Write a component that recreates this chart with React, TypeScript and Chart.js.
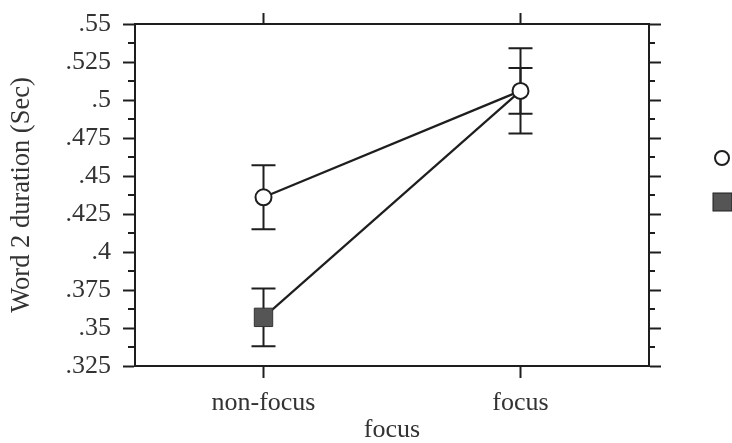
import React, { useEffect, useRef } from 'react';
import { Chart, registerables } from 'chart.js';

Chart.register(...registerables);

// ---- data ----
const categories = ['non-focus', 'focus'];
const circleValues = [0.436, 0.506];
const circleErrors = [0.021, 0.015];
const squareValues = [0.357, 0.506];
const squareErrors = [0.019, 0.028];
const yTickValues = [0.325, 0.35, 0.375, 0.4, 0.425, 0.45, 0.475, 0.5, 0.525, 0.55];
const yTickLabels = ['.325', '.35', '.375', '.4', '.425', '.45', '.475', '.5', '.525', '.55'];
const yMinorValues = [0.3375, 0.3625, 0.3875, 0.4125, 0.4375, 0.4625, 0.4875, 0.5125, 0.5375];
const yTitle = 'Word 2 duration (Sec)';
const xTitle = 'focus';

const INK = '#1e1e1e';
const TEXT = '#333';
const FONT = "'Liberation Serif', 'Times New Roman', serif";

const errorBarPlugin = {
  id: 'errorBars',
  beforeDatasetsDraw(chart: any) {
    const { ctx } = chart;
    const xs = chart.scales.x;
    const ys = chart.scales.y;
    const sets = [
      { v: squareValues, e: squareErrors },
      { v: circleValues, e: circleErrors },
    ];
    ctx.save();
    ctx.strokeStyle = INK;
    ctx.lineWidth = 2;
    sets.forEach((s) => {
      s.v.forEach((val, j) => {
        const x = xs.getPixelForValue(j);
        const yt = ys.getPixelForValue(val + s.e[j]);
        const yb = ys.getPixelForValue(val - s.e[j]);
        ctx.beginPath();
        ctx.moveTo(x, yt);
        ctx.lineTo(x, yb);
        ctx.moveTo(x - 12, yt);
        ctx.lineTo(x + 12, yt);
        ctx.moveTo(x - 12, yb);
        ctx.lineTo(x + 12, yb);
        ctx.stroke();
      });
    });
    ctx.restore();
  },
  afterDraw(chart: any) {
    const { ctx, chartArea } = chart;
    const ys = chart.scales.y;
    ctx.save();
    ctx.strokeStyle = INK;
    ctx.lineWidth = 2;
    // minor ticks left and right
    yMinorValues.forEach((v) => {
      const y = ys.getPixelForValue(v);
      ctx.beginPath();
      ctx.moveTo(chartArea.left - 7, y);
      ctx.lineTo(chartArea.left, y);
      ctx.moveTo(chartArea.right, y);
      ctx.lineTo(chartArea.right + 6, y);
      ctx.stroke();
    });
    // legend markers (labels fall outside the picture)
    const lx = chartArea.right + 73;
    ctx.beginPath();
    ctx.arc(lx, 158, 7, 0, Math.PI * 2);
    ctx.fillStyle = '#fff';
    ctx.fill();
    ctx.lineWidth = 2;
    ctx.stroke();
    ctx.fillStyle = '#555';
    ctx.fillRect(lx - 9, 193, 19, 18);
    ctx.lineWidth = 1;
    ctx.strokeRect(lx - 9, 193, 19, 18);
    ctx.restore();
  },
};

export default function App() {
  const ref = useRef<HTMLCanvasElement>(null);
  useEffect(() => {
    if (!ref.current) return;
    const chart = new Chart(ref.current, {
      type: 'line',
      data: {
        labels: categories,
        datasets: [
          {
            label: 'circle',
            data: circleValues,
            borderColor: INK,
            borderWidth: 2.2,
            pointStyle: 'circle',
            pointRadius: 8,
            pointBorderWidth: 2,
            pointBackgroundColor: '#fff',
            pointBorderColor: INK,
            order: 0,
          },
          {
            label: 'square',
            data: squareValues,
            borderColor: INK,
            borderWidth: 2.2,
            pointStyle: 'rect',
            pointRadius: [13, 0],
            pointBorderWidth: 1,
            pointBackgroundColor: '#555',
            pointBorderColor: '#333',
            order: 1,
          },
        ],
      },
      options: {
        responsive: false,
        animation: false,
        devicePixelRatio: 1,
        layout: { padding: 0 },
        plugins: { legend: { display: false }, tooltip: { enabled: false } },
        scales: {
          x: {
            type: 'category',
            position: 'bottom',
            offset: true,
            grid: { drawOnChartArea: false, offset: false, tickLength: 12, tickColor: INK, tickWidth: 2 },
            border: { display: true, color: INK, width: 2 },
            ticks: { color: TEXT, font: { family: FONT, size: 26 }, padding: 10, maxRotation: 0 },
            title: { display: true, text: xTitle, color: TEXT, font: { family: FONT, size: 26, lineHeight: 1 }, padding: { top: 0, bottom: 0 } },
            afterFit: (s: any) => { s.height = 77; s.paddingLeft = 0; s.paddingRight = 0; },
          },
          x2: {
            type: 'category',
            labels: categories,
            position: 'top',
            offset: true,
            display: true,
            grid: { drawOnChartArea: false, offset: false, tickLength: 11, tickColor: INK, tickWidth: 2 },
            border: { display: true, color: INK, width: 2 },
            ticks: { display: false },
            afterFit: (s: any) => { s.height = 24; s.paddingLeft = 0; s.paddingRight = 0; },
          },
          y: {
            type: 'linear',
            position: 'left',
            min: 0.325,
            max: 0.55,
            afterBuildTicks: (s: any) => { s.ticks = yTickValues.map((v) => ({ value: v })); },
            grid: { drawOnChartArea: false, tickLength: 12, tickColor: INK, tickWidth: 2 },
            border: { display: true, color: INK, width: 2 },
            ticks: {
              color: TEXT,
              font: { family: FONT, size: 26 },
              padding: 12,
              callback: (_v: any, i: number) => yTickLabels[i],
            },
            title: { display: true, text: yTitle, color: TEXT, font: { family: FONT, size: 26.5 }, padding: { top: 6, bottom: 0 } },
            afterFit: (s: any) => { s.width = 135; s.paddingTop = 0; s.paddingBottom = 0; },
          },
          y2: {
            type: 'linear',
            position: 'right',
            display: true,
            min: 0.325,
            max: 0.55,
            afterBuildTicks: (s: any) => { s.ticks = yTickValues.map((v) => ({ value: v })); },
            grid: { drawOnChartArea: false, tickLength: 12, tickColor: INK, tickWidth: 2 },
            border: { display: true, color: INK, width: 2 },
            ticks: { display: false },
            afterFit: (s: any) => { s.width = 83; s.paddingTop = 0; s.paddingBottom = 0; },
          },
        },
      },
      plugins: [errorBarPlugin],
    });
    return () => chart.destroy();
  }, []);
  return (
    <div style={{ position: 'absolute', left: 0, top: 0, width: 732, height: 443, background: '#fff' }}>
      <canvas ref={ref} width={732} height={443} style={{ display: 'block' }} />
    </div>
  );
}
